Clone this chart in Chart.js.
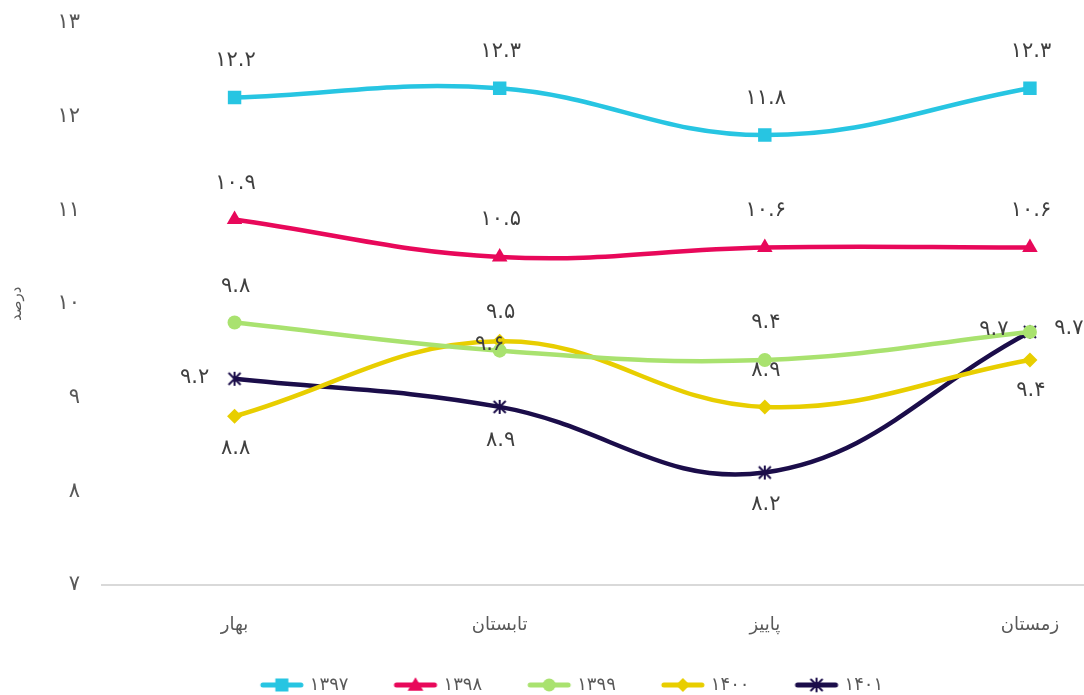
<!DOCTYPE html>
<html>
<head>
<meta charset="utf-8">
<script src="https://cdn.jsdelivr.net/npm/chart.js@4.4.1/dist/chart.umd.min.js"></script>
<style>
  html, body { margin: 0; padding: 0; background: #ffffff; overflow: hidden; }
  #wrap { width: 1084px; height: 695px; overflow: hidden; position: relative; }
  canvas { display: block; margin-top: -12px; margin-left: -36px; }
</style>
</head>
<body>
<div id="wrap"><canvas id="c" width="1208" height="716"></canvas></div>
<script>
// ---- data ----
const categories = ['بهار', 'تابستان', 'پاییز', 'زمستان'];
const seriesNames = ['1397', '1398', '1399', '1400', '1401'];
const s1397 = [12.2, 12.3, 11.8, 12.3];
const s1398 = [10.9, 10.5, 10.6, 10.6];
const s1399 = [9.8, 9.5, 9.4, 9.7];
const s1400 = [8.8, 9.6, 8.9, 9.4];
const s1401 = [9.2, 8.9, 8.2, 9.7];
const yTicks = [7, 8, 9, 10, 11, 12, 13];
const axisTitle = 'درصد';

// ---- styles (separate from data) ----
const colors = ['#27C5E2', '#E8085A', '#A9E26F', '#E8CE00', '#1B0D4A'];
const markers = ['rect', 'triangle', 'circle', 'rectRot', 'asterisk'];
const markerRadius = [9.5, 9, 7, 7.5, 7];
// data label offsets [dx, dy] relative to each point
const labelOffsets = [
  [[0, -37], [0, -37], [0, -37], [0, -37]],
  [[0, -36], [0, -37], [0, -37], [0, -37]],
  [[0, -36], [0, -38], [0, -37], [-37, -2]],
  [[0, 32], [-11, 3], [0, -36], [0, 31]],
  [[-41, -1], [0, 34], [0, 32], [38, -3]]
];

const FONT = "'DejaVu Sans', sans-serif";
const textColor = '#595959';

function fa(v) {
  const d = '۰۱۲۳۴۵۶۷۸۹';
  return String(v).replace(/[0-9]/g, c => d[+c]);
}

function drawMarker(ctx, type, x, y, size, color) {
  ctx.fillStyle = color;
  ctx.strokeStyle = color;
  if (type === 'rect') {
    ctx.fillRect(x - size / 2, y - size / 2, size, size);
  } else if (type === 'triangle') {
    ctx.beginPath();
    ctx.moveTo(x, y - size * 0.6);
    ctx.lineTo(x + size * 0.6, y + size * 0.45);
    ctx.lineTo(x - size * 0.6, y + size * 0.45);
    ctx.closePath(); ctx.fill();
  } else if (type === 'circle') {
    ctx.beginPath(); ctx.arc(x, y, size / 2, 0, Math.PI * 2); ctx.fill();
  } else if (type === 'rectRot') {
    ctx.beginPath();
    ctx.moveTo(x, y - size / 2); ctx.lineTo(x + size / 2, y);
    ctx.lineTo(x, y + size / 2); ctx.lineTo(x - size / 2, y);
    ctx.closePath(); ctx.fill();
  } else if (type === 'asterisk') {
    const r = size / 2;
    ctx.lineWidth = 2;
    ctx.beginPath();
    ctx.moveTo(x - r, y - r); ctx.lineTo(x + r, y + r);
    ctx.moveTo(x + r, y - r); ctx.lineTo(x - r, y + r);
    ctx.moveTo(x, y - r - 1); ctx.lineTo(x, y + r + 1);
    ctx.stroke();
  }
}

function asteriskImage(color) {
  const c = document.createElement('canvas');
  c.width = 18; c.height = 18;
  drawMarker(c.getContext('2d'), 'asterisk', 9, 9, 12, color);
  return c;
}

// legend icon: transparent left margin + line with marker in the middle
const LEG_M = 10;
const LEG_W = LEG_M + 46;
function legendImage(i) {
  const c = document.createElement('canvas');
  c.width = LEG_W; c.height = 18;
  const ctx = c.getContext('2d');
  const x0 = LEG_M;
  ctx.strokeStyle = colors[i];
  ctx.lineWidth = 5;
  ctx.lineCap = 'round';
  ctx.beginPath(); ctx.moveTo(x0 + 4, 9); ctx.lineTo(x0 + 42, 9); ctx.stroke();
  const sz = markers[i] === 'asterisk' ? 11 : (markers[i] === 'rectRot' ? 14 : 13);
  drawMarker(ctx, markers[i], x0 + 23, 9, sz, colors[i]);
  return c;
}

const allSeries = [s1397, s1398, s1399, s1400, s1401];
const datasets = allSeries.map((data, i) => ({
  label: fa(seriesNames[i]),
  data: data,
  borderColor: colors[i],
  backgroundColor: colors[i],
  borderWidth: 4.5,
  tension: 0.4,
  pointStyle: markers[i] === 'asterisk' ? asteriskImage(colors[i]) : markers[i],
  pointRadius: markerRadius[i],
  pointHoverRadius: markerRadius[i],
  pointBorderWidth: 0,
  pointBackgroundColor: colors[i],
  order: i
}));

const dataLabels = {
  id: 'dataLabels',
  afterDatasetsDraw(chart) {
    const ctx = chart.ctx;
    ctx.save();
    ctx.font = '21px ' + FONT;
    ctx.letterSpacing = '2px';
    ctx.fillStyle = '#404040';
    ctx.textAlign = 'center';
    ctx.textBaseline = 'middle';
    chart.data.datasets.forEach((ds, i) => {
      const meta = chart.getDatasetMeta(i);
      meta.data.forEach((pt, j) => {
        const off = labelOffsets[i][j];
        ctx.fillText(fa(ds.data[j].toFixed(1)), pt.x + off[0] + 1, pt.y + off[1]);
      });
    });
    ctx.restore();
  }
};

new Chart(document.getElementById('c'), {
  type: 'line',
  data: { labels: categories, datasets: datasets },
  plugins: [dataLabels],
  options: {
    responsive: false,
    animation: false,
    devicePixelRatio: 1,
    layout: { padding: { top: 10, right: 0, bottom: 0, left: 0 } },
    plugins: {
      tooltip: { enabled: false },
      legend: {
        position: 'bottom',
        labels: {
          usePointStyle: true,
          pointStyleWidth: LEG_W - 8,
          color: textColor,
          font: { family: FONT, size: 18 },
          padding: 38,
          generateLabels(chart) {
            return chart.data.datasets.map((ds, i) => ({
              text: ds.label,
              fillStyle: colors[i],
              strokeStyle: colors[i],
              lineWidth: 0,
              pointStyle: legendImage(i),
              hidden: false,
              datasetIndex: i,
              fontColor: textColor
            }));
          }
        }
      }
    },
    scales: {
      x: {
        type: 'category',
        offset: true,
        grid: { display: false, drawTicks: false },
        border: { display: true, color: '#D9D9D9', width: 2 },
        ticks: { color: textColor, font: { family: FONT, size: 18 }, padding: 30, maxRotation: 0 },
        afterFit(scale) { scale.height = 53; }
      },
      y: {
        min: 7,
        max: 13,
        afterBuildTicks(scale) { scale.ticks = yTicks.map(v => ({ value: v })); },
        grid: { display: false, drawTicks: false },
        border: { display: false },
        ticks: { color: textColor, font: { family: FONT, size: 21 }, padding: 22, callback: v => fa(v) },
        title: { display: true, text: axisTitle, color: textColor, font: { family: FONT, size: 15 }, padding: { top: 44, bottom: 4 } },
        afterFit(scale) { scale.width = 138; }
      }
    }
  }
});
</script>
</body>
</html>
